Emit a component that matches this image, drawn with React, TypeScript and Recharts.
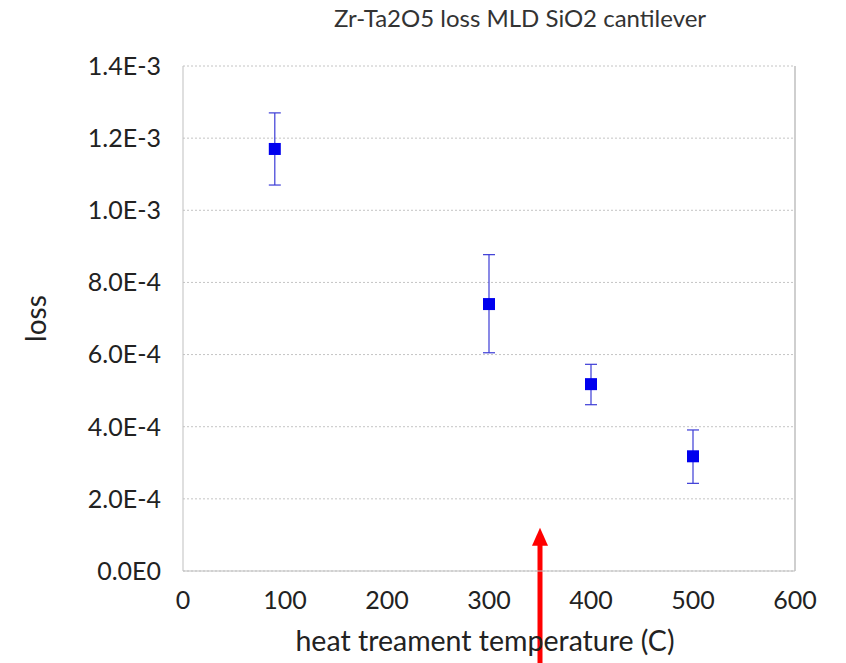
import React from 'react';
import { ScatterChart, Scatter, XAxis, YAxis, CartesianGrid, ErrorBar, ReferenceLine } from 'recharts';

const temps = [90, 300, 400, 500];
const loss = [1.17e-3, 0.74e-3, 0.518e-3, 0.318e-3];
const errLow = [0.1e-3, 0.135e-3, 0.057e-3, 0.075e-3];
const errHigh = [0.1e-3, 0.137e-3, 0.055e-3, 0.073e-3];

const xTicks = [0, 100, 200, 300, 400, 500, 600];
const yTicks = [0, 0.0002, 0.0004, 0.0006, 0.0008, 0.001, 0.0012, 0.0014];

// arrow annotation (data units)
const arrowX = 350;
const arrowTop = 0.12e-3;
const arrowBottom = -0.26e-3;

const data = temps.map((t, i) => ({ t, loss: loss[i], err: [errLow[i], errHigh[i]] }));

const FONT = 'Lato, "Open Sans", sans-serif';
const AXIS = '#bfbfbf';

const fmtSci = (v: number) => {
  if (v === 0) return '0.0E0';
  const e = Math.floor(Math.log10(v) + 1e-9);
  return (v / Math.pow(10, e)).toFixed(1) + 'E' + e;
};

const SquareDot = (props: any) => {
  const { cx, cy } = props;
  if (cx == null || cy == null) return null;
  return <rect x={cx - 6} y={cy - 6} width={12} height={12} fill="#0000ee" />;
};

const Arrow = (props: any) => {
  const { x1, y1, x2, y2 } = props;
  const topY = Math.min(y1, y2);
  const botY = Math.max(y1, y2);
  return (
    <g>
      <line x1={x1} x2={x2} y1={topY + 14} y2={botY} stroke="#ff0000" strokeWidth={5} />
      <polygon points={`${x1},${topY} ${x1 - 8},${topY + 18} ${x1 + 8},${topY + 18}`} fill="#ff0000" />
    </g>
  );
};

export default function App() {
  return (
    <div style={{ position: 'absolute', left: 0, top: 0, width: 846, height: 663, background: '#fff' }}>
      <div
        style={{
          position: 'absolute',
          left: 270,
          width: 500,
          top: 3,
          textAlign: 'center',
          fontFamily: FONT,
          fontSize: 24,
          lineHeight: '29px',
          color: '#333',
        }}
      >
        Zr-Ta2O5 loss MLD SiO2 cantilever
      </div>
      <ScatterChart width={846} height={663} margin={{ top: 66, right: 51, bottom: 0, left: 0 }}>
        <CartesianGrid vertical={false} stroke="#c4c4c4" strokeDasharray="2 2" />
        <XAxis
          xAxisId={0}
          type="number"
          dataKey="t"
          domain={[0, 600]}
          ticks={xTicks}
          height={92}
          tickLine={false}
          axisLine={{ stroke: AXIS }}
          tickMargin={14}
          tick={{ fill: '#222', fontSize: 25, fontFamily: FONT }}
          label={{
            content: (p: any) => {
              const vb = p.viewBox;
              return (
                <text x={vb.x + vb.width / 2 - 4} y={vb.y + 69} textAnchor="middle" dominantBaseline="central" fill="#222" fontSize={28.5} fontFamily={FONT}>
                  heat treament temperature (C)
                </text>
              );
            },
          }}
        />
        <XAxis xAxisId="bt" type="number" orientation="bottom" domain={[0, 600]} ticks={xTicks} height={0} mirror tick={false} tickSize={5} tickLine={{ stroke: AXIS }} axisLine={false} />
        <XAxis xAxisId="top" type="number" orientation="top" domain={[0, 600]} ticks={xTicks} height={0} mirror tick={false} tickSize={5} tickLine={{ stroke: AXIS }} axisLine={{ stroke: AXIS }} />
        <YAxis
          yAxisId={0}
          type="number"
          dataKey="loss"
          domain={[0, 0.0014]}
          ticks={yTicks}
          width={183}
          tickLine={false}
          axisLine={{ stroke: AXIS }}
          tickMargin={16}
          tickFormatter={fmtSci}
          tick={{ fill: '#222', fontSize: 25, fontFamily: FONT }}
          label={{
            content: (p: any) => {
              const vb = p.viewBox;
              const cx = vb.x + 35;
              const cy = vb.y + vb.height / 2;
              return (
                <text x={cx} y={cy} transform={`rotate(-90 ${cx} ${cy})`} textAnchor="middle" dominantBaseline="central" fill="#222" fontSize={28} fontFamily={FONT}>
                  loss
                </text>
              );
            },
          }}
        />
        <YAxis yAxisId="right" type="number" orientation="right" domain={[0, 0.0014]} ticks={yTicks} width={0} mirror tick={false} tickSize={5} tickLine={{ stroke: AXIS }} axisLine={{ stroke: AXIS }} />
        <ReferenceLine x={600} stroke={AXIS} strokeWidth={1.5} />
        <Scatter data={data} fill="#0000ee" shape={<SquareDot />} isAnimationActive={false}>
          <ErrorBar dataKey="err" direction="y" width={6} stroke="#3b3bd6" strokeWidth={1.2} />
        </Scatter>
        <ReferenceLine
          segment={[
            { x: arrowX, y: arrowTop },
            { x: arrowX, y: arrowBottom },
          ]}
          ifOverflow="visible"
          shape={<Arrow />}
        />
      </ScatterChart>
    </div>
  );
}
